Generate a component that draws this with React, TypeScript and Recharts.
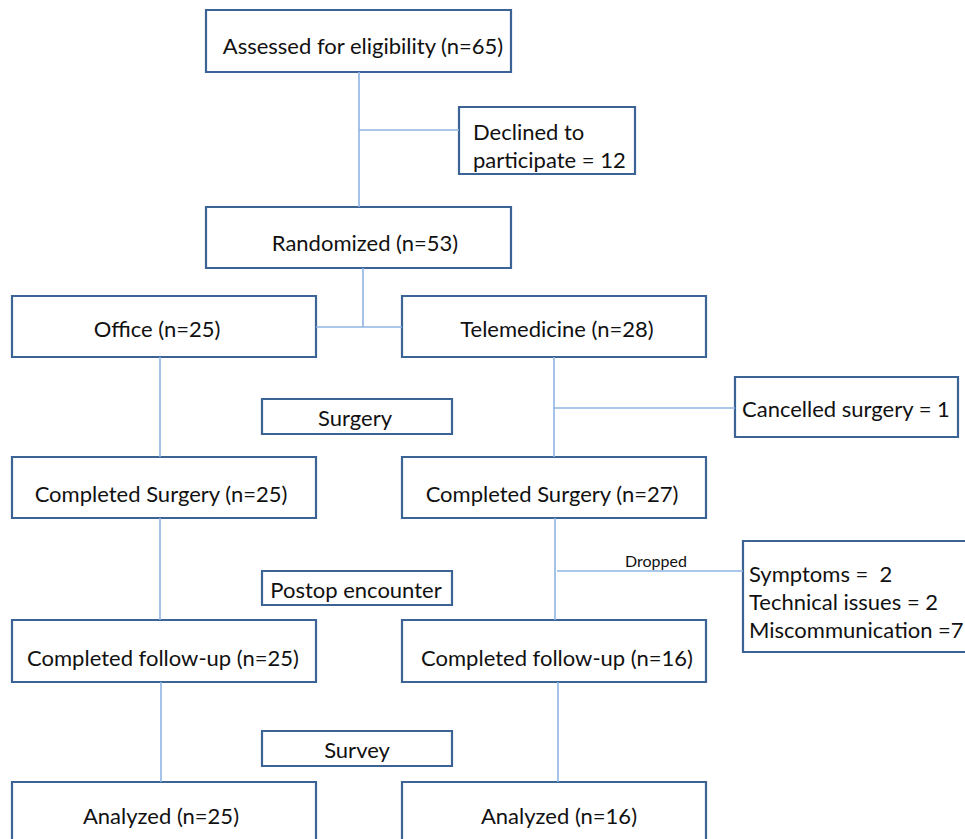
import { ScatterChart, Scatter, XAxis, YAxis, ReferenceArea, ReferenceLine } from 'recharts';

// flowchart drawn on a 965 x 839 unit grid (y grows downward)
const boxes = [
  { id: 'assessed', x1: 206, x2: 511, y1: 10, y2: 72 },
  { id: 'declined', x1: 459, x2: 635, y1: 107, y2: 174 },
  { id: 'randomized', x1: 206, x2: 511, y1: 207, y2: 268 },
  { id: 'office', x1: 12, x2: 316, y1: 296, y2: 357 },
  { id: 'tele', x1: 402, x2: 706, y1: 296, y2: 357 },
  { id: 'surgery', x1: 262, x2: 452, y1: 399, y2: 434 },
  { id: 'cancelled', x1: 735, x2: 958, y1: 377, y2: 437 },
  { id: 'compSurgOffice', x1: 12, x2: 316, y1: 457, y2: 518 },
  { id: 'compSurgTele', x1: 402, x2: 706, y1: 457, y2: 518 },
  { id: 'postop', x1: 262, x2: 452, y1: 571, y2: 605 },
  { id: 'dropped', x1: 743, x2: 980, y1: 541, y2: 652 },
  { id: 'followOffice', x1: 12, x2: 316, y1: 620, y2: 682 },
  { id: 'followTele', x1: 402, x2: 706, y1: 620, y2: 682 },
  { id: 'survey', x1: 262, x2: 452, y1: 731, y2: 766 },
  { id: 'analyzedOffice', x1: 12, x2: 316, y1: 782, y2: 850 },
  { id: 'analyzedTele', x1: 402, x2: 706, y1: 782, y2: 850 },
];

const connectors = [
  { from: [359, 72], to: [359, 207] },
  { from: [359, 130], to: [459, 130] },
  { from: [363, 268], to: [363, 327] },
  { from: [316, 327], to: [402, 327] },
  { from: [160, 357], to: [160, 457] },
  { from: [554, 357], to: [554, 457] },
  { from: [554, 408], to: [735, 408] },
  { from: [160, 518], to: [160, 620] },
  { from: [555, 518], to: [555, 620] },
  { from: [557, 571], to: [743, 571] },
  { from: [161, 682], to: [161, 782] },
  { from: [558, 682], to: [558, 782] },
];

const labels = [
  { x: 363, y: 45, text: 'Assessed for eligibility (n=65)', anchor: 'middle', size: 22 },
  { x: 473, y: 131, text: 'Declined to', anchor: 'start', size: 22 },
  { x: 473, y: 159, text: 'participate = 12', anchor: 'start', size: 22 },
  { x: 365, y: 242, text: 'Randomized (n=53)', anchor: 'middle', size: 22 },
  { x: 157, y: 328, text: 'Office (n=25)', anchor: 'middle', size: 22 },
  { x: 557, y: 328, text: 'Telemedicine (n=28)', anchor: 'middle', size: 22 },
  { x: 355, y: 417, text: 'Surgery', anchor: 'middle', size: 22 },
  { x: 742, y: 408, text: 'Cancelled surgery = 1', anchor: 'start', size: 22 },
  { x: 161, y: 493, text: 'Completed Surgery (n=25)', anchor: 'middle', size: 22 },
  { x: 552, y: 493, text: 'Completed Surgery (n=27)', anchor: 'middle', size: 22 },
  { x: 656, y: 560, text: 'Dropped', anchor: 'middle', size: 16 },
  { x: 356, y: 589, text: 'Postop encounter', anchor: 'middle', size: 22 },
  { x: 749, y: 573, text: 'Symptoms =  2', anchor: 'start', size: 22 },
  { x: 749, y: 601, text: 'Technical issues = 2', anchor: 'start', size: 22 },
  { x: 749, y: 629, text: 'Miscommunication =7', anchor: 'start', size: 22 },
  { x: 163, y: 657, text: 'Completed follow-up (n=25)', anchor: 'middle', size: 22 },
  { x: 557, y: 657, text: 'Completed follow-up (n=16)', anchor: 'middle', size: 22 },
  { x: 357, y: 749, text: 'Survey', anchor: 'middle', size: 22 },
  { x: 161, y: 815, text: 'Analyzed (n=25)', anchor: 'middle', size: 22 },
  { x: 559, y: 815, text: 'Analyzed (n=16)', anchor: 'middle', size: 22 },
];

const BOX_STROKE = '#3b6396';
const LINE_STROKE = '#8fb4e3';
const FONT = 'Lato, "Open Sans", sans-serif';

const TextMark = (props: any) => {
  const { cx, cy, payload } = props;
  return (
    <text
      x={cx}
      y={cy}
      textAnchor={payload.anchor}
      dominantBaseline="central"
      fontSize={payload.size}
      fontFamily={FONT}
      fill="#111111"
      style={{ whiteSpace: 'pre' }}
    >
      {payload.text}
    </text>
  );
};

export default function App() {
  return (
    <div style={{ position: 'absolute', left: 0, top: 0, width: 965, height: 839, background: '#fff' }}>
      <ScatterChart width={965} height={839} margin={{ top: 0, right: 0, bottom: 0, left: 0 }}>
        <XAxis type="number" dataKey="x" domain={[0, 965]} hide allowDataOverflow />
        <YAxis type="number" dataKey="y" domain={[0, 839]} reversed hide allowDataOverflow />
        {connectors.map((c, i) => (
          <ReferenceLine
            key={'c' + i}
            segment={[{ x: c.from[0], y: c.from[1] }, { x: c.to[0], y: c.to[1] }]}
            stroke={LINE_STROKE}
            strokeWidth={1.6}
            ifOverflow="visible"
          />
        ))}
        {boxes.map((b) => (
          <ReferenceArea
            key={b.id}
            x1={b.x1}
            x2={b.x2}
            y1={b.y1}
            y2={b.y2}
            fill="#ffffff"
            fillOpacity={1}
            stroke={BOX_STROKE}
            strokeWidth={2.2}
            ifOverflow="visible"
          />
        ))}
        <Scatter data={labels} shape={TextMark} isAnimationActive={false} />
      </ScatterChart>
    </div>
  );
}
